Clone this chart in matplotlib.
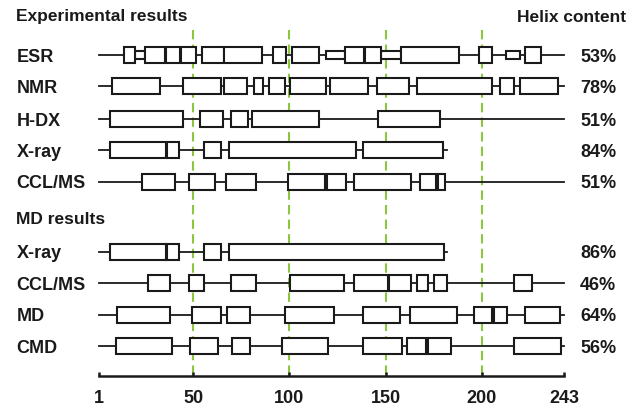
# Helix positions per method, residue numbering 1-243

import matplotlib.pyplot as plt
from matplotlib.patches import Rectangle

plt.rcParams['font.family'] = ['Liberation Sans', 'DejaVu Sans']
plt.rcParams['font.weight'] = 'bold'

labels = ['ESR', 'NMR', 'H-DX', 'X-ray', 'CCL/MS',
          'X-ray', 'CCL/MS', 'MD', 'CMD']
helix_content = ['53%', '78%', '51%', '84%', '51%',
                 '86%', '46%', '64%', '56%']
chain_end = [243, 243, 243, 182, 243, 182, 243, 243, 243]

# full helices (start, end)
esr = [(13.9, 19.6), (24.8, 35.2), (35.8, 42.9), (43.5, 51.4), (54.3, 66),
       (66, 85.8), (91.5, 98.3), (101.4, 115.2), (129, 138.5), (139.2, 147.5),
       (158, 187.9), (198.8, 205.2), (222.6, 231)]
# narrow segments (partial helices)
esr_narrow = [(19.6, 24.8), (119, 129), (147.5, 158), (212.6, 220)]

nmr = [(7.9, 32.8), (44.5, 64.6), (66, 78.1), (81.5, 86.2), (89.3, 97.9),
       (100.2, 119), (121.2, 140.7), (145.3, 162.3), (166.4, 205.3),
       (209.7, 216.6), (220, 239.7)]
hdx = [(6.5, 44.5), (53.5, 65.5), (69.5, 78.4), (80.4, 115.2), (146.2, 178.1)]
xray = [(6.5, 35.9), (36.5, 42.7), (55.3, 64.6), (68.3, 134.4), (138, 179.7)]
cclms = [(23.5, 40.7), (47.6, 61.4), (67.2, 82.7), (99.1, 118.6),
         (119.4, 129.3), (133.3, 163), (168.1, 176.4), (177.2, 181)]

md_xray = [(6.5, 35.9), (36.5, 42.7), (55.3, 64.6), (68.3, 180.4)]
md_cclms = [(26.4, 38), (47.6, 55.7), (69.5, 82.7), (100.5, 128.5),
            (133.3, 151), (152, 163.1), (166.4, 172.1), (175.2, 182.1),
            (216.9, 226)]
md_md = [(10.5, 38), (49.3, 64.6), (67.4, 79.5), (97.6, 123.4), (138, 157.4),
         (162.9, 187.2), (195.9, 205.3), (206.2, 212.9), (222.6, 240.7)]
cmd = [(9.7, 38.8), (48.4, 62.9), (70.3, 79.5), (96.2, 120), (138, 158.3),
       (161.2, 171.2), (172.1, 184.1), (216.9, 241)]

helices = [esr, nmr, hdx, xray, cclms, md_xray, md_cclms, md_md, cmd]
narrow = [esr_narrow, [], [], [], [], [], [], [], []]

xticks = [1, 50, 100, 150, 200, 243]
guides = [50, 100, 150, 200]

row_y = [56, 87, 119.5, 151, 182.5, 252.5, 284, 315.5, 347]
box_h = 16
green = '#8cc63f'
ink = '#1a1a1a'

fig = plt.figure(figsize=(6.26, 4.06), dpi=100)
ax = fig.add_axes([0, 0, 1, 1])
ax.set_xlim(-50.53, 275.0)
ax.set_ylim(406, 0)

for g in guides:
    ax.plot([g, g], [31, 376], color=green, lw=1.5, ls=(0, (4.5, 2.5)), zorder=1)

for y, hel, nar, end, lab, pct in zip(row_y, helices, narrow, chain_end,
                                      labels, helix_content):
    ax.plot([1, end], [y, y], color=ink, lw=1.3, zorder=2)
    for s, e in nar:
        ax.add_patch(Rectangle((s, y - box_h / 4), e - s, box_h / 2,
                               facecolor='white', edgecolor=ink,
                               lw=1.5, zorder=3))
    for s, e in hel:
        ax.add_patch(Rectangle((s, y - box_h / 2), e - s, box_h,
                               facecolor='white', edgecolor=ink,
                               lw=1.5, zorder=4))
    ax.text(-42, y + 1.5, lab, fontsize=13, fontweight='bold',
            ha='left', va='center', color=ink)
    ax.text(260.5, y + 1.5, pct, fontsize=13, fontweight='bold',
            ha='center', va='center', color=ink)

ax.text(-42, 17, 'Experimental results', fontsize=12.5, fontweight='bold',
        ha='left', va='center', color=ink)
ax.text(275, 17, 'Helix content', fontsize=12.5, fontweight='bold',
        ha='right', va='center', color=ink)
ax.text(-42, 220, 'MD results', fontsize=12.5, fontweight='bold',
        ha='left', va='center', color=ink)

# residue axis
ax.spines['left'].set_color('none')
ax.spines['right'].set_color('none')
ax.spines['top'].set_color('none')
ax.spines['bottom'].set_position(('data', 376.5))
ax.spines['bottom'].set_bounds(1, 243)
ax.spines['bottom'].set_linewidth(1.8)
ax.spines['bottom'].set_color(ink)
ax.set_yticks([])
ax.set_xticks(xticks)
ax.set_xticklabels([str(t) for t in xticks], fontsize=13, fontweight='bold',
                   color=ink)
ax.tick_params(axis='x', direction='in', length=3, width=1.8, pad=10,
               color=ink)

plt.savefig('out.png', dpi=100)
